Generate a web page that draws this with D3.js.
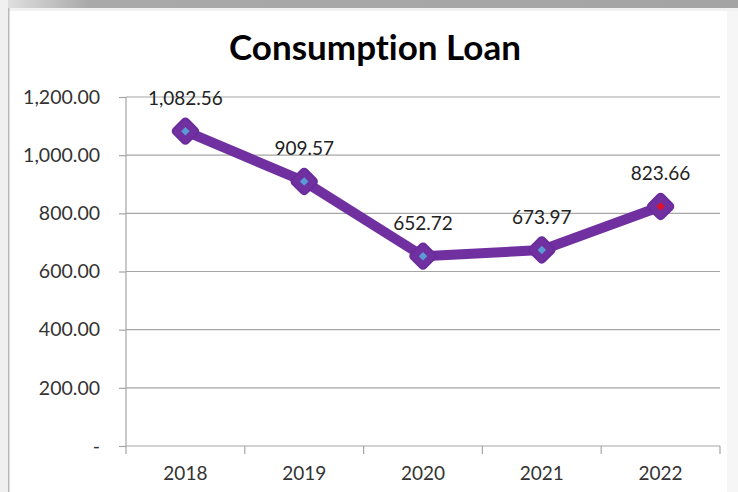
<!DOCTYPE html>
<html>
<head>
<meta charset="utf-8">
<script src="https://cdn.jsdelivr.net/npm/d3@7"></script>
<style>
  html, body { margin: 0; padding: 0; background: #fff; }
  svg { display: block; }
  text { font-variant-ligatures: none; }
</style>
</head>
<body>
<svg id="chart" width="738" height="492"></svg>
<script>
// Consumption loan by year
const years = ["2018", "2019", "2020", "2021", "2022"];
const loanValues = [1082.56, 909.57, 652.72, 673.97, 823.66];
const yTicks = [0, 200, 400, 600, 800, 1000, 1200];
const markerCenters = ["#5b9bd5", "#5b9bd5", "#5b9bd5", "#5b9bd5", "#e0102a"];

const W = 738, H = 492;
const FONT = "Lato, 'Open Sans', sans-serif";
const svg = d3.select("#chart");

// window-like frame around the chart
const defs = svg.append("defs");
const topGrad = defs.append("linearGradient").attr("id", "topBand").attr("x1", 0).attr("x2", 1);
topGrad.append("stop").attr("offset", 0).attr("stop-color", "#e4e4e4");
topGrad.append("stop").attr("offset", 0.12).attr("stop-color", "#a9a9a9");
topGrad.append("stop").attr("offset", 1).attr("stop-color", "#a4a4a4");
svg.append("rect").attr("x", 0).attr("y", 0).attr("width", W).attr("height", H).attr("fill", "#fff");
svg.append("rect").attr("x", 0).attr("y", 0).attr("width", W).attr("height", 8).attr("fill", "url(#topBand)");
svg.append("rect").attr("x", 0).attr("y", 8).attr("width", W).attr("height", 3).attr("fill", "#f2f2f2");
svg.append("rect").attr("x", 0).attr("y", 0).attr("width", 8).attr("height", H).attr("fill", "#f0f0f0");
svg.append("rect").attr("x", 8).attr("y", 8).attr("width", 1.5).attr("height", H).attr("fill", "#b9b9b9");
svg.append("rect").attr("x", 727).attr("y", 11).attr("width", 11).attr("height", H).attr("fill", "#f6f6f6");

const plot = { left: 126, right: 720, top: 97, bottom: 446 };

const x = d3.scaleBand().domain(years).range([plot.left, plot.right]).paddingInner(0).paddingOuter(0);
const y = d3.scaleLinear().domain([0, 1200]).range([plot.bottom, plot.top]);

// title
svg.append("text")
  .attr("x", 375).attr("y", 60)
  .attr("text-anchor", "middle")
  .attr("font-family", FONT)
  .attr("font-weight", 700)
  .attr("font-size", 35)
  .attr("fill", "#000")
  .text("Consumption Loan");

// horizontal gridlines
svg.append("g").selectAll("line")
  .data(yTicks.filter(d => d > 0))
  .join("line")
  .attr("x1", plot.left).attr("x2", plot.right)
  .attr("y1", d => y(d)).attr("y2", d => y(d))
  .attr("stroke", "#a6a6a6").attr("stroke-width", 1.2);

// y axis
const fmt = d => d === 0 ? "-" : d3.format(",.2f")(d);
const yAxis = svg.append("g")
  .attr("transform", `translate(${plot.left},0)`)
  .call(d3.axisLeft(y).tickValues(yTicks).tickFormat(fmt).tickSize(7).tickPadding(19));
yAxis.select(".domain").attr("stroke", "#a6a6a6").attr("stroke-width", 1.2)
  .attr("d", `M0,${plot.top}V${plot.bottom + 8}`);
yAxis.selectAll(".tick line").attr("stroke", "#a6a6a6").attr("stroke-width", 1.2);
yAxis.selectAll(".tick text")
  .attr("font-family", FONT)
  .attr("font-size", 19.5).attr("fill", "#333");

// x axis
const xAxis = svg.append("g")
  .attr("transform", `translate(0,${plot.bottom})`)
  .call(d3.axisBottom(x).tickSize(0).tickPadding(21));
xAxis.select(".domain").attr("stroke", "#a6a6a6").attr("stroke-width", 1.2)
  .attr("d", `M${plot.left},0H${plot.right}`);
xAxis.selectAll(".tick text")
  .attr("font-family", FONT)
  .attr("font-size", 19).attr("fill", "#333");
// category boundary ticks
const bounds = years.map(d => x(d)).concat([x(years[years.length - 1]) + x.bandwidth()]);
xAxis.append("g").selectAll("line")
  .data(bounds.slice(1))
  .join("line")
  .attr("x1", d => d).attr("x2", d => d)
  .attr("y1", 0).attr("y2", 8)
  .attr("stroke", "#a6a6a6").attr("stroke-width", 1.2);

const cx = d => x(d) + x.bandwidth() / 2;
const pts = years.map((yr, i) => ({ yr, v: loanValues[i], c: markerCenters[i] }));

// line
svg.append("path")
  .datum(pts)
  .attr("fill", "none")
  .attr("stroke", "#7030a0")
  .attr("stroke-width", 10)
  .attr("stroke-linejoin", "round")
  .attr("d", d3.line().x(d => cx(d.yr)).y(d => y(d.v)));

// markers
const mk = svg.append("g").selectAll("g").data(pts).join("g")
  .attr("transform", d => `translate(${cx(d.yr)},${y(d.v)}) rotate(45)`);
mk.append("rect")
  .attr("x", -10).attr("y", -10).attr("width", 20).attr("height", 20)
  .attr("rx", 3.5)
  .attr("fill", "#7030a0").attr("stroke", "#6a2c9c").attr("stroke-width", 2);
mk.append("rect")
  .attr("x", -3).attr("y", -3).attr("width", 6).attr("height", 6)
  .attr("fill", d => d.c);

// data labels
svg.append("g").selectAll("text").data(pts).join("text")
  .attr("x", d => cx(d.yr))
  .attr("y", d => y(d.v) - 26)
  .attr("text-anchor", "middle")
  .attr("font-family", FONT)
  .attr("font-size", 19).attr("fill", "#222")
  .text(d => d3.format(",.2f")(d.v));
</script>
</body>
</html>
